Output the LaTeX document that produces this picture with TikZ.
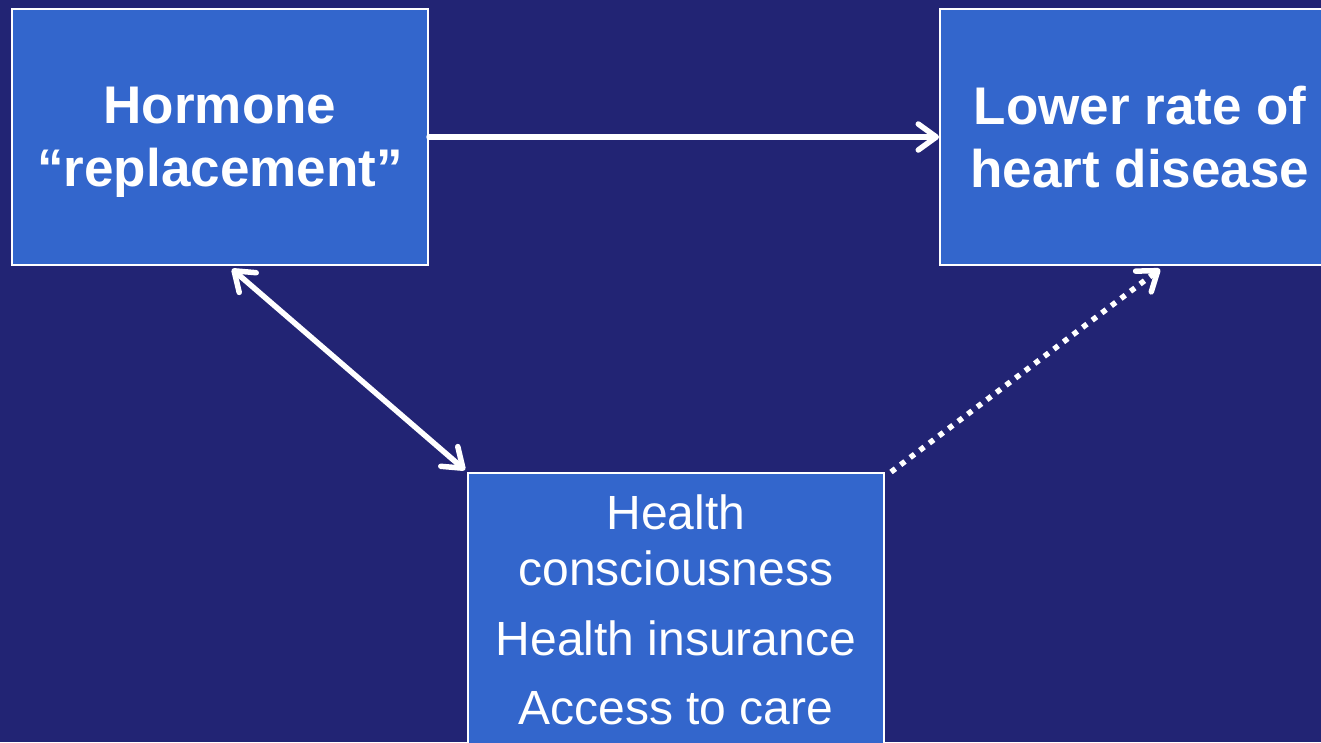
\documentclass[tikz,border=0pt]{standalone}
\usepackage{fontspec}
\setmainfont{Liberation Sans}
\usetikzlibrary{arrows.meta}
\definecolor{slidebg}{HTML}{222474}
\definecolor{boxblue}{HTML}{3366CC}
\begin{document}
\begin{tikzpicture}[x=1pt,y=-1pt]
        \tikzset{box/.style={draw=white,line width=2pt,fill=boxblue,text=white,inner sep=0pt,align=center,text depth=0pt},
            bigtext/.style={font=\fontsize{53}{63}\selectfont\bfseries},
            smalltext/.style={font=\fontsize{48}{56}\selectfont},
            link/.style={white,line width=5.5pt,line cap=round,-{Straight Barb[length=18pt,width=26pt,line cap=round,line join=round]}}}
        \fill[slidebg] (0,0) rectangle (1321,742);
        \useasboundingbox (0,0) rectangle (1321,742);
        \node[box,bigtext,minimum width=416pt,minimum height=256pt] (hrt) at (220,137) {Hormone\\``replacement''};
        \node[box,bigtext,minimum width=400pt,minimum height=256pt] (heart) at (1140,137) {Lower rate of\\heart disease};
        \node[box,smalltext,minimum width=416pt,minimum height=274pt] (care) at (676,610) {Health\\consciousness\\[14pt]Health insurance\\[13pt]Access to care};
        \draw[link] (hrt.east) -- (heart.west);
        \draw[link,{Straight Barb[length=18pt,width=26pt,line cap=round,line join=round]}-{Straight Barb[length=18pt,width=26pt,line cap=round,line join=round]}] ([xshift=12pt,yshift=-3pt]hrt.south) -- ([xshift=-2pt,yshift=2pt]care.north west);
        \draw[link,line cap=butt,dash pattern=on 5.5pt off 6.5pt] ([xshift=6pt]care.north east) -- ([xshift=20pt,yshift=-3pt]heart.south);
    \end{tikzpicture}
\end{document}
